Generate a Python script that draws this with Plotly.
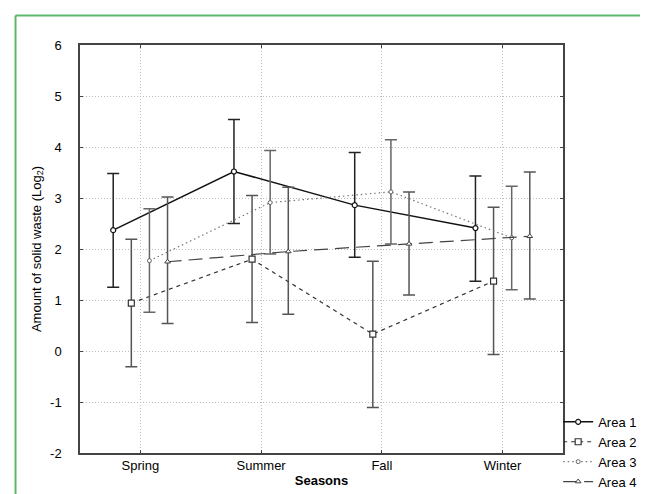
import plotly.graph_objects as go

seasons = ["Spring", "Summer", "Fall", "Winter"]
series_names = ["Area 1", "Area 2", "Area 3", "Area 4"]
y_ticks = [-2, -1, 0, 1, 2, 3, 4, 5, 6]
y_tick_labels = ["-2", "-1", "0", "1", "2", "3", "4", "5", "6"]

area1_mean = [2.37, 3.52, 2.86, 2.41]
area1_upper = [3.48, 4.54, 3.89, 3.43]
area1_lower = [1.25, 2.50, 1.84, 1.37]

area2_mean = [0.94, 1.80, 0.33, 1.37]
area2_upper = [2.19, 3.05, 1.76, 2.82]
area2_lower = [-0.31, 0.56, -1.11, -0.07]

area3_mean = [1.77, 2.91, 3.12, 2.22]
area3_upper = [2.79, 3.93, 4.14, 3.23]
area3_lower = [0.76, 1.90, 2.10, 1.20]

area4_mean = [1.75, 1.95, 2.10, 2.25]
area4_upper = [3.02, 3.21, 3.12, 3.51]
area4_lower = [0.54, 0.72, 1.10, 1.02]

means = [area1_mean, area2_mean, area3_mean, area4_mean]
uppers = [area1_upper, area2_upper, area3_upper, area4_upper]
lowers = [area1_lower, area2_lower, area3_lower, area4_lower]

styles = [
    dict(line=dict(color="#111111", width=1.5, dash="solid"),
         marker=dict(symbol="circle", size=5, color="white", line=dict(color="#111111", width=1.2)),
         ecolor="#222222"),
    dict(line=dict(color="#333333", width=1.2, dash="4px,4px"),
         marker=dict(symbol="square", size=6, color="white", line=dict(color="#333333", width=1.2)),
         ecolor="#555555"),
    dict(line=dict(color="#777777", width=1.2, dash="1.5px,3px"),
         marker=dict(symbol="circle", size=4, color="white", line=dict(color="#666666", width=1)),
         ecolor="#666666"),
    dict(line=dict(color="#444444", width=1.2, dash="14px,7px"),
         marker=dict(symbol="triangle-up", size=5, color="white", line=dict(color="#444444", width=1)),
         ecolor="#555555"),
]

fig = go.Figure()
for name, m, up, lo, st in zip(series_names, means, uppers, lowers, styles):
    fig.add_trace(go.Scatter(
        x=seasons, y=m, name=name, mode="lines+markers",
        line=st["line"], marker=st["marker"],
        error_y=dict(type="data", symmetric=False,
                     array=[u - v for u, v in zip(up, m)],
                     arrayminus=[v - l for v, l in zip(m, lo)],
                     color=st["ecolor"], thickness=1.5, width=6),
    ))

font_family = "Liberation Sans, Arial, sans-serif"

fig.update_layout(
    width=648, height=494,
    margin=dict(l=72, r=93, t=37, b=49, autoexpand=False),
    paper_bgcolor="white", plot_bgcolor="white",
    scattermode="group", scattergap=0.4,
    font=dict(family=font_family, size=13, color="black"),
    showlegend=True,
    legend=dict(x=0.99, xanchor="left", y=0.113, yanchor="top",
                font=dict(size=13, family=font_family),
                bgcolor="rgba(0,0,0,0)", tracegroupgap=0,
                itemwidth=30),
    xaxis=dict(
        title=dict(text="<b>Seasons</b>", font=dict(size=13), standoff=4),
        automargin=False,
        showline=True, mirror="ticks", linecolor="#444444", linewidth=1.5,
        ticks="inside", ticklen=3, tickcolor="#444444",
        tickfont=dict(size=13),
        showgrid=True, gridcolor="#bdbdbd", griddash="1px,2px", gridwidth=1,
        range=[-0.5, 3.5], zeroline=False,
    ),
    yaxis=dict(
        title=dict(text="Amount of solid waste (Log<sub>2</sub>)", font=dict(size=13), standoff=6),
        automargin=False,
        range=[-2, 6], tickvals=y_ticks, ticktext=y_tick_labels,
        ticklabelstandoff=14,
        tickfont=dict(size=13),
        showline=True, mirror="ticks", linecolor="#444444", linewidth=1.5,
        ticks="inside", ticklen=3, tickcolor="#444444",
        showgrid=True, gridcolor="#bdbdbd", griddash="1px,2px", gridwidth=1,
        zeroline=False,
    ),
)

# green frame around the figure (top and left edges)
fig.add_shape(type="line", xref="paper", yref="paper",
              x0=-0.1335, y0=-0.13, x1=-0.1335, y1=1.0723,
              line=dict(color="#5cb86a", width=2))
fig.add_shape(type="line", xref="paper", yref="paper",
              x0=-0.1335, y0=1.0723, x1=1.2, y1=1.0723,
              line=dict(color="#5cb86a", width=2))

fig.write_html("out.html")
